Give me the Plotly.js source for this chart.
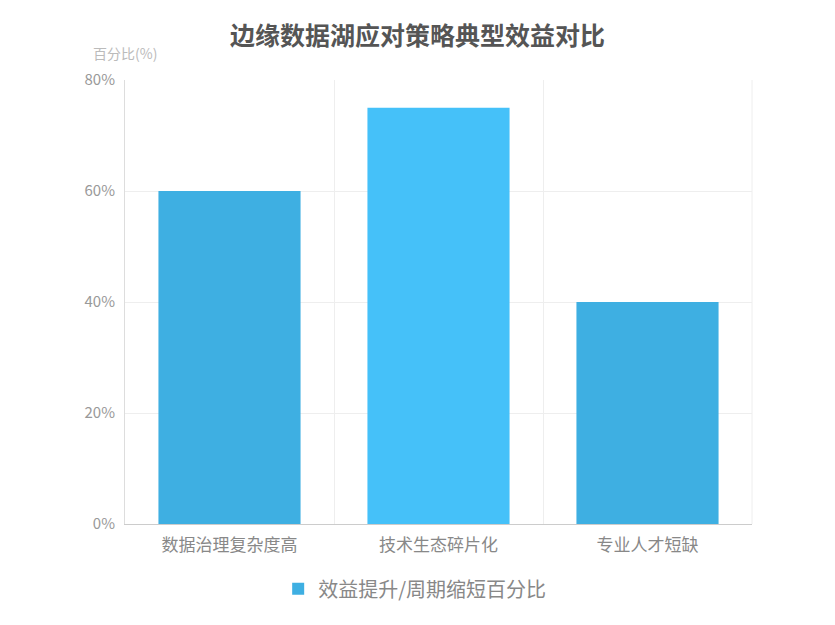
<!DOCTYPE html>
<html>
<head>
<meta charset="utf-8">
<script src="https://cdn.plot.ly/plotly-3.0.1.min.js"></script>
<style>
  html, body { margin: 0; padding: 0; background: #fff; }
  #chart { width: 835px; height: 625px; }
</style>
</head>
<body>
<div id="chart"></div>
<script>
// categories and values (percent)
let categories = ['数据治理复杂度高', '技术生态碎片化', '专业人才短缺'];
let values = [60, 75, 40];
let barColors = ['#3eafe2', '#45c1f9', '#3eafe2'];
let seriesName = '效益提升/周期缩短百分比';
let yTicks = [0, 20, 40, 60, 80];

let font = '"Microsoft YaHei", "Noto Sans CJK SC", sans-serif';

let data = [{
  x: categories,
  y: values,
  type: 'bar',
  name: seriesName,
  width: 0.68,
  marker: { color: barColors },
  showlegend: true
}];

let layout = {
  width: 835,
  height: 625,
  paper_bgcolor: '#fff',
  plot_bgcolor: '#fff',
  font: { family: font, color: '#999' },
  margin: { l: 125, r: 83, t: 80, b: 101 },
  title: {
    text: '<b>边缘数据湖应对策略典型效益对比</b>',
    font: { size: 25, color: '#555', family: font },
    x: 0.5, xanchor: 'center',
    y: 0.942, yanchor: 'middle'
  },
  xaxis: {
    type: 'category',
    tickson: 'boundaries',
    showgrid: true,
    gridcolor: '#eeeeee',
    ticks: '',
    showline: true,
    linecolor: '#cccccc',
    ticklabelstandoff: 6,
    tickfont: { size: 17, color: '#888' },
    fixedrange: true
  },
  yaxis: {
    range: [0, 80],
    tickvals: yTicks,
    ticktext: yTicks.map(v => v + '%'),
    showgrid: true,
    gridcolor: '#eeeeee',
    showline: true,
    linecolor: '#dddddd',
    zeroline: false,
    ticks: '',
    ticklabelstandoff: 6,
    tickfont: { size: 15, color: '#999' },
    fixedrange: true
  },
  shapes: [
    { type: 'line', xref: 'paper', yref: 'paper', x0: 1, x1: 1, y0: 0, y1: 1,
      line: { color: '#eeeeee', width: 1 } }
  ],
  annotations: [{
    text: '百分比(%)',
    xref: 'paper', yref: 'paper',
    x: 0, y: 1.061, xanchor: 'center', yanchor: 'middle',
    showarrow: false,
    font: { size: 14, color: '#bbb' }
  }],
  legend: {
    orientation: 'h',
    x: 0.462, xanchor: 'center',
    y: -0.146, yanchor: 'middle',
    font: { size: 20, color: '#888' }
  },
  bargap: 0.32
};

Plotly.newPlot('chart', data, layout, { displayModeBar: false, staticPlot: true });
</script>
</body>
</html>
